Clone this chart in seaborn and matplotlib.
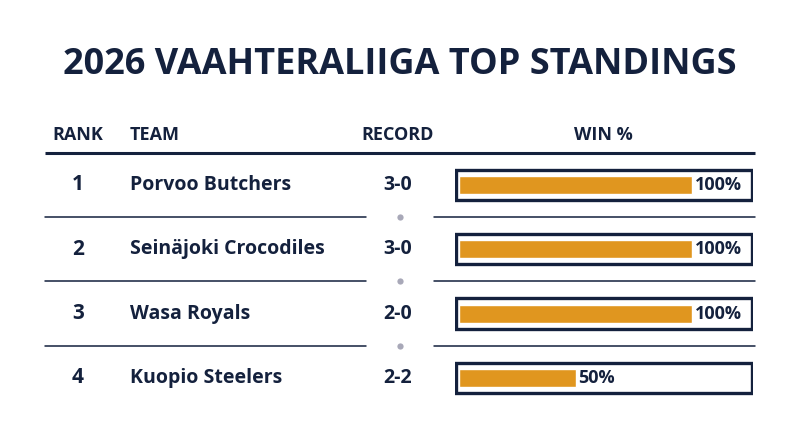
import matplotlib
matplotlib.use("Agg")
import matplotlib.pyplot as plt
import seaborn as sns
import pandas as pd
from matplotlib.patches import Rectangle

ranks = [1, 2, 3, 4]
teams = ["Porvoo Butchers", "Seinäjoki Crocodiles", "Wasa Royals", "Kuopio Steelers"]
records = ["3-0", "3-0", "2-0", "2-2"]
win_pct = [100, 100, 100, 50]

NAVY = "#14213d"
GOLD = "#e0961f"
sns.set_theme(style="white")
plt.rcParams['font.family'] = ['Open Sans', 'DejaVu Sans']

W, H = 800, 447
fig = plt.figure(figsize=(8, 4.47), dpi=100)
fig.patch.set_facecolor("white")
ax = fig.add_axes([0, 0, 1, 1])
ax.set_xlim(0, W); ax.set_ylim(H, 0); ax.axis("off")

ax.text(400, 65, "2026 VAAHTERALIIGA TOP STANDINGS", ha="center", va="center",
        fontsize=26, fontweight="bold", color=NAVY)
hy = 135
for x, t, ha in [(78, "RANK", "center"), (130, "TEAM", "left"), (398, "RECORD", "center"), (603, "WIN %", "center")]:
    ax.text(x, hy, t, ha=ha, va="center", fontsize=13, fontweight="bold", color=NAVY)
ax.plot([45, 755], [153, 153], color=NAVY, lw=2.2, solid_capstyle="butt")

row0, step = 185, 64.3
for i in range(len(teams)):
    y = row0 + i * step
    ax.text(78, y, str(ranks[i]), ha="center", va="center", fontsize=15, fontweight="bold", color=NAVY)
    ax.text(130, y, teams[i], ha="left", va="center", fontsize=14, fontweight="bold", color=NAVY)
    ax.text(398, y, records[i], ha="center", va="center", fontsize=14, fontweight="bold", color=NAVY)
    if i < len(teams) - 1:
        sy = y + step / 2
        ax.plot([45, 366], [sy, sy], color=NAVY, lw=1.1)
        ax.plot([434, 755], [sy, sy], color=NAVY, lw=1.1)
        ax.plot([400], [sy], "o", color="#a8a8b8", ms=4.5, mec="none")

# bar axes
left_px, right_px = 455, 753
top_px = row0 - step / 2
bot_px = row0 + 3.5 * step
bax = fig.add_axes([left_px / W, 1 - bot_px / H, (right_px - left_px) / W, (bot_px - top_px) / H])
scale = 2.33
bax.set_xlim(-(459 - left_px) / scale, (right_px - 459) / scale)
df = pd.DataFrame({"team": teams, "win": win_pct})
sns.barplot(data=df, x="win", y="team", orient="h", color=GOLD, saturation=1, width=0.28, ax=bax)
bax.set_ylim(3.5, -0.5)
bax.axis("off")
xl = bax.get_xlim()
for i, v in enumerate(win_pct):
    bax.add_patch(Rectangle((xl[0] + 0.6, i - 0.235), (xl[1] - xl[0]) - 1.2, 0.47,
                            fill=False, ec=NAVY, lw=2.4, zorder=5))
    bax.text(v + 1.2, i, f"{v}%", ha="left", va="center", fontsize=13, fontweight="bold", color=NAVY)

fig.savefig("out.png", dpi=100, facecolor="white")
